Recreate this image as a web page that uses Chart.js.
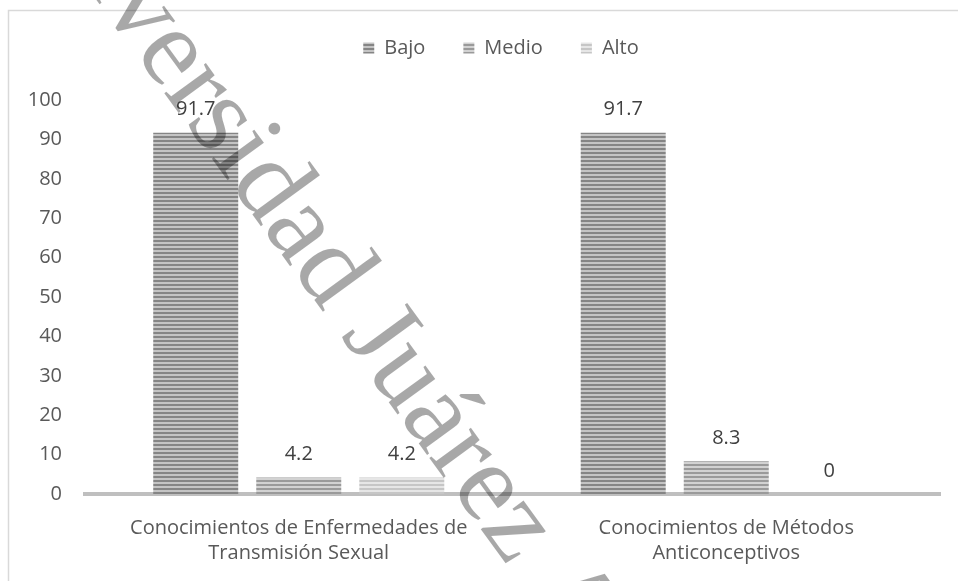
<!DOCTYPE html>
<html>
<head>
<meta charset="utf-8">
<script src="https://cdn.jsdelivr.net/npm/chart.js@4.4.1/dist/chart.umd.min.js"></script>
<style>
  html, body { margin: 0; padding: 0; background: #fff; }
  #wrap { position: relative; width: 958px; height: 581px; }
</style>
</head>
<body>
<div id="wrap"><canvas id="chart" width="958" height="581"></canvas></div>
<script>
const categories = [
  ["Conocimientos de Enfermedades de", "Transmisión Sexual"],
  ["Conocimientos de Métodos", "Anticonceptivos"]
];
const seriesNames = ["Bajo", "Medio", "Alto"];
const bajo = [91.7, 91.7];
const medio = [4.2, 8.3];
const alto = [4.2, 0];
const yTicks = [0, 10, 20, 30, 40, 50, 60, 70, 80, 90, 100];
const watermark = "Universidad Juárez Autónoma de Tabasco";

const FONT = "'Open Sans', sans-serif";

// striped fills like the Word chart
function stripes(dark, light) {
  const c = document.createElement("canvas");
  c.width = 4; c.height = 4;
  const g = c.getContext("2d");
  g.fillStyle = light;
  g.fillRect(0, 0, 4, 4);
  g.fillStyle = dark;
  g.fillRect(0, 0, 4, 2);
  return g.createPattern(c, "repeat");
}

const fills = [
  stripes("#858585", "#c4c4c4"),
  stripes("#9a9a9a", "#d2d2d2"),
  stripes("#c6c6c6", "#e6e6e6")
];

// frame, legend box, value labels, watermark
const extras = {
  id: "extras",
  beforeLayout(chart) {
    const lg = chart.legend;
    if (lg && !lg._patched) {
      const fit = lg.fit.bind(lg);
      lg.fit = function () { fit(); this.height = 100; };
      lg._patched = true;
    }
  },
  afterLayout(chart) {
    // legend sits a bit right of the canvas centre
    chart.legend.left += 31;
    chart.legend.right += 31;
  },
  beforeDraw(chart) {
    const ctx = chart.ctx;
    ctx.save();
    ctx.strokeStyle = "#d9d9d9";
    ctx.lineWidth = 1.5;
    ctx.beginPath();
    ctx.moveTo(8.5, 581);
    ctx.lineTo(8.5, 10.5);
    ctx.lineTo(958, 10.5);
    ctx.stroke();
    ctx.restore();
  },
  afterDatasetsDraw(chart) {
    const ctx = chart.ctx;
    ctx.save();
    ctx.font = "20px " + FONT;
    ctx.fillStyle = "#404040";
    ctx.textAlign = "center";
    ctx.textBaseline = "middle";
    chart.data.datasets.forEach((ds, i) => {
      chart.getDatasetMeta(i).data.forEach((bar, j) => {
        ctx.fillText(String(ds.data[j]), bar.x, bar.y - 23);
      });
    });
    ctx.restore();
  },
  afterDraw(chart) {
    const ctx = chart.ctx;
    ctx.save();
    ctx.translate(2, -130);
    ctx.rotate(54 * Math.PI / 180);
    ctx.font = "112px 'Liberation Serif', serif";
    ctx.fillStyle = "rgba(0,0,0,0.34)";
    ctx.textBaseline = "alphabetic";
    ctx.fillText(watermark, 0, 0);
    ctx.restore();
  }
};

new Chart(document.getElementById("chart"), {
  type: "bar",
  data: {
    labels: categories,
    datasets: [
      { label: seriesNames[0], data: bajo, backgroundColor: fills[0] },
      { label: seriesNames[1], data: medio, backgroundColor: fills[1] },
      { label: seriesNames[2], data: alto, backgroundColor: fills[2] }
    ]
  },
  options: {
    responsive: false,
    animation: false,
    devicePixelRatio: 1,
    categoryPercentage: 0.723,
    barPercentage: 0.825,
    layout: { padding: { top: 0, right: 18, left: 0, bottom: 0 } },
    plugins: {
      legend: {
        position: "top",
        labels: {
          font: { family: FONT, size: 20 },
          color: "#595959",
          boxWidth: 11,
          boxHeight: 11,
          padding: 38
        }
      },
      tooltip: { enabled: false }
    },
    scales: {
      x: {
        grid: { display: false, drawTicks: false },
        border: { display: true, color: "#bfbfbf", width: 4 },
        ticks: {
          font: { family: FONT, size: 20, lineHeight: 1.25 },
          color: "#595959",
          padding: 22
        },
        afterFit(scale) { scale.height = 87; }
      },
      y: {
        min: 0,
        max: 100,
        grid: { display: false, drawTicks: false },
        border: { display: false },
        afterBuildTicks(scale) { scale.ticks = yTicks.map(v => ({ value: v })); },
        ticks: {
          font: { family: FONT, size: 20 },
          color: "#595959",
          padding: 23
        },
        afterFit(scale) { scale.width = 85; }
      }
    }
  },
  plugins: [extras]
});
</script>
</body>
</html>
